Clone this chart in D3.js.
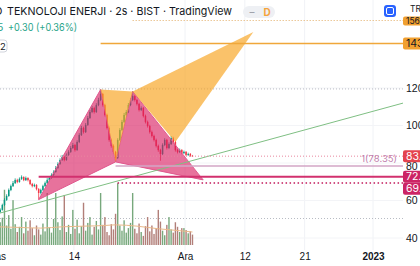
<!DOCTYPE html>
<html>
<head>
<meta charset="utf-8">
<script src="https://cdn.jsdelivr.net/npm/d3@7"></script>
<style>
html, body { margin: 0; padding: 0; background: #fff; }
svg { display: block; font-family: Inter, Roboto, sans-serif; }
</style>
</head>
<body>
<svg id="chart" width="420" height="266"></svg>
<script>
// 2h candles, first open then closes/highs/lows per bar
var firstOpen = 54.6;
var closes = [53.9, 55.0, 57.6, 60.3, 62.4, 65.6, 67.7, 69.3, 70.9, 69.9, 71.5, 72.5, 70.9, 72.0, 70.9, 68.8, 67.7, 68.3, 66.1, 64.0,
    65.6, 67.7, 69.3, 70.9, 72.0, 73.6, 75.2, 77.3, 79.5, 81.6, 83.2, 81.6, 84.3, 85.9, 88.0, 89.6, 86.9, 91.2, 94.9, 98.7,
    96.5, 100.3, 104.0, 107.2, 109.3, 107.2, 110.9, 113.6, 116.8, 110.9, 105.6, 98.7, 92.3, 89.1, 85.9, 82.7, 92.3, 97.6, 101.9, 105.6,
    107.2, 110.9, 113.6, 115.7, 113.6, 111.5, 108.3, 109.3, 105.1, 101.9, 99.7, 96.5, 94.4, 92.3, 89.1, 86.9, 84.8, 89.6, 92.3, 88.0,
    90.1, 93.3, 91.2, 86.9, 85.9, 86.9, 85.3, 85.9, 84.3, 84.8, 83.9, 83.65];
var highs = [55.4, 55.8, 58.3, 61.2, 63.3, 66.4, 68.5, 70.4, 71.8, 71.6, 72.3, 73.4, 72.9, 72.8, 72.4, 71.3, 69.4, 69.0, 68.7, 66.6,
    66.3, 68.4, 70.1, 71.9, 72.8, 74.5, 76.1, 78.4, 80.4, 82.5, 84.3, 83.8, 85.1, 86.8, 89.0, 90.7, 90.2, 92.1, 95.9, 99.8,
    99.4, 101.3, 105.1, 108.3, 110.4, 110.0, 111.9, 114.8, 119.2, 117.4, 111.6, 106.3, 99.5, 93.0, 89.9, 86.5, 93.2, 98.6, 103.0, 106.7,
    108.3, 112.0, 114.7, 118.2, 116.4, 114.2, 112.1, 110.2, 109.9, 105.8, 102.6, 100.4, 97.3, 95.1, 93.0, 89.8, 87.6, 90.5, 93.2, 92.9,
    91.0, 94.3, 94.0, 91.8, 87.6, 87.7, 87.4, 86.6, 86.4, 85.5, 85.3, 84.3];
var lows = [53.0, 53.4, 54.6, 57.0, 59.8, 62.0, 65.0, 67.2, 68.8, 69.2, 69.5, 71.0, 70.3, 70.4, 70.2, 68.2, 67.0, 67.1, 65.4, 60.5,
    63.2, 65.1, 67.2, 68.8, 70.3, 71.6, 73.0, 74.8, 76.9, 79.0, 81.1, 80.9, 81.2, 83.8, 85.4, 87.5, 86.1, 86.5, 90.6, 94.4,
    95.7, 96.0, 99.8, 103.5, 106.6, 106.4, 106.7, 110.3, 113.0, 110.1, 104.8, 97.9, 91.4, 88.2, 85.0, 80.6, 82.1, 91.7, 97.0, 101.3,
    105.0, 106.6, 110.3, 113.0, 112.8, 110.7, 107.5, 107.7, 104.3, 101.1, 98.9, 95.7, 93.6, 91.5, 88.3, 86.0, 81.2, 84.2, 89.0, 87.2,
    87.4, 89.6, 90.4, 86.1, 85.1, 85.3, 84.7, 84.8, 83.7, 83.8, 83.3, 83.2];
// volume in millions
var volumes = [2.0, 3.5, 4.2, 8.5, 3.0, 4.6, 2.5, 6.9, 3.2, 2.0, 2.8, 4.3, 1.8, 3.6, 2.2, 3.8, 2.6, 1.5, 3.0, 2.4,
    1.6, 3.3, 2.1, 8.0, 2.7, 1.9, 4.0, 8.0, 3.5, 2.3, 4.4, 7.7, 2.0, 3.1, 1.7, 5.4, 2.5, 3.9, 1.8, 2.9,
    6.5, 2.2, 3.4, 4.3, 1.6, 2.8, 3.7, 2.4, 8.0, 3.1, 4.3, 2.0, 1.5, 3.2, 2.4, 4.8, 9.5, 3.0, 2.2, 3.8,
    1.9, 2.6, 3.4, 8.0, 2.5, 1.8, 3.3, 2.0, 1.4, 2.9, 4.3, 2.1, 3.0, 1.7, 2.6, 5.4, 3.6, 2.2, 1.5, 3.1,
    4.3, 2.4, 1.9, 3.5, 2.8, 2.0, 2.6, 2.6, 2.3, 1.8, 2.1, 1.6];
// volume moving average read at a few bars: [bar, value]
var volMA = [[0, 2.8], [10, 2.7], [20, 2.6], [30, 2.8], [40, 2.9], [50, 3.0], [55, 3.1], [65, 2.9], [75, 2.5], [85, 2.2], [91, 2.0]];

var tickDays = [0, 9, 22, 29, 36, 44];
var tickLabels = ["Kas", "14", "Ara", "12", "21", "2023"];
var priceTicks = [40, 60, 80, 100, 120];

// harmonic pattern points: [bar, price]
var ptX = [19, 60.5], ptA = [48, 119.2], ptB = [55, 80.6], ptC = [63, 118.2], ptD = [96, 71.0];
var ptL = [83, 91.2], ptT = [119.5, 149.9];
var trendLine = [[0.9, 53.3], [189.7, 112]];

var lastPrice = 83.65;
var fibLevel = 78.35;
var supportLevel = 72.70;
var lowLevel = 69.30;
var targetLevel = 143.70;
var topLevel = 156.0;
var grayLevels = [119.5, 50.4];

var W = 420, H = 266, plotRight = 403;

var svg = d3.select("#chart");

var xScale = d3.scaleLinear().domain([0, 44]).range([-3, 373]);
var yScale = d3.scaleLinear().domain([40, 120]).range([238, 88]);
var vScale = d3.scaleLinear().domain([0, 10]).range([245, 180]);

function bx(k) { return xScale((k + 0.5) / 4); }

svg.append("rect").attr("width", W).attr("height", H).attr("fill", "#fff");

svg.append("defs").append("clipPath").attr("id", "plot")
    .append("rect").attr("x", 0).attr("y", 0).attr("width", plotRight).attr("height", 250);

var plot = svg.append("g").attr("clip-path", "url(#plot)");

// grid
plot.append("g").selectAll("line").data(tickDays).enter().append("line")
    .attr("x1", d => xScale(d)).attr("x2", d => xScale(d))
    .attr("y1", 0).attr("y2", 250)
    .attr("stroke", "#f0f2f6");
plot.append("g").selectAll("line").data(priceTicks).enter().append("line")
    .attr("x1", 0).attr("x2", plotRight)
    .attr("y1", d => yScale(d)).attr("y2", d => yScale(d))
    .attr("stroke", "#f3f4f7");

// gray dotted levels
plot.append("g").selectAll("line").data(grayLevels).enter().append("line")
    .attr("x1", 0).attr("x2", plotRight)
    .attr("y1", d => yScale(d)).attr("y2", d => yScale(d))
    .attr("stroke", "#b8bcc4").attr("stroke-dasharray", "1,2");

// volume
var opens = closes.map((c, i) => i == 0 ? firstOpen : closes[i - 1]);
plot.append("g").selectAll("rect").data(volumes).enter().append("rect")
    .attr("x", (d, i) => bx(i) - 0.7)
    .attr("width", 1.4)
    .attr("y", d => vScale(d))
    .attr("height", d => vScale(0) - vScale(d))
    .attr("fill", (d, i) => closes[i] >= opens[i] ? "#77a87c" : "#b27f79");

plot.append("path")
    .datum(volMA)
    .attr("d", d3.line().x(d => bx(d[0])).y(d => vScale(d[1])).curve(d3.curveMonotoneX))
    .attr("fill", "none").attr("stroke", "#eab98a").attr("stroke-width", 1);

// candles
var candles = plot.append("g").selectAll("g").data(closes).enter().append("g");
candles.append("line")
    .attr("x1", (d, i) => bx(i)).attr("x2", (d, i) => bx(i))
    .attr("y1", (d, i) => yScale(highs[i])).attr("y2", (d, i) => yScale(lows[i]))
    .attr("stroke", (d, i) => d >= opens[i] ? "#089981" : "#f23645").attr("stroke-width", 0.8);
candles.append("rect")
    .attr("x", (d, i) => bx(i) - 0.75).attr("width", 1.5)
    .attr("y", (d, i) => yScale(Math.max(d, opens[i])))
    .attr("height", (d, i) => Math.max(0.8, Math.abs(yScale(d) - yScale(opens[i]))))
    .attr("fill", (d, i) => d >= opens[i] ? "#089981" : "#f23645");

// pattern shapes
function pts(list) { return list.map(p => [bx(p[0]), yScale(p[1])].join(",")).join(" "); }

plot.append("g").selectAll("polygon").data([[ptX, ptA, ptB], [ptB, ptC, ptD]]).enter().append("polygon")
    .attr("points", d => pts(d))
    .attr("fill", "#d81b60").attr("fill-opacity", 0.62)
    .attr("stroke", "#e0588e").attr("stroke-width", 1);
plot.append("g").selectAll("polygon").data([[ptA, ptB, ptC], [ptC, ptL, ptT]]).enter().append("polygon")
    .attr("points", d => pts(d))
    .attr("fill", "#f7a11a").attr("fill-opacity", 0.65);

// trend line
plot.append("line")
    .attr("x1", bx(trendLine[0][0])).attr("y1", yScale(trendLine[0][1]))
    .attr("x2", bx(trendLine[1][0])).attr("y2", yScale(trendLine[1][1]))
    .attr("stroke", "#7fbf83").attr("stroke-width", 1);

// horizontal drawings
plot.append("line")
    .attr("x1", bx(ptC[0])).attr("x2", plotRight)
    .attr("y1", yScale(topLevel)).attr("y2", yScale(topLevel))
    .attr("stroke", "#e2ad66").attr("stroke-dasharray", "1,2");
plot.append("line")
    .attr("x1", bx(ptA[0])).attr("x2", plotRight)
    .attr("y1", yScale(targetLevel)).attr("y2", yScale(targetLevel))
    .attr("stroke", "#f0a73a").attr("stroke-width", 1.5);
plot.append("line")
    .attr("x1", 0).attr("x2", plotRight)
    .attr("y1", yScale(lastPrice)).attr("y2", yScale(lastPrice))
    .attr("stroke", "#e8869f").attr("stroke-dasharray", "1,2");
plot.append("line")
    .attr("x1", bx(ptB[0])).attr("x2", plotRight)
    .attr("y1", yScale(fibLevel)).attr("y2", yScale(fibLevel))
    .attr("stroke", "#d3a6c6").attr("stroke-width", 1.5);
plot.append("line")
    .attr("x1", bx(ptX[0])).attr("x2", plotRight)
    .attr("y1", yScale(supportLevel)).attr("y2", yScale(supportLevel))
    .attr("stroke", "#d2306e").attr("stroke-width", 2);
plot.append("line")
    .attr("x1", bx(ptB[0]) + 2).attr("x2", plotRight)
    .attr("y1", yScale(lowLevel)).attr("y2", yScale(lowLevel))
    .attr("stroke", "#c2185b").attr("stroke-width", 1.5).attr("stroke-dasharray", "1.5,2.5");

plot.append("text")
    .attr("x", 397).attr("y", yScale(fibLevel) - 4)
    .attr("text-anchor", "end")
    .style("font-size", "9.5px").attr("fill", "#c27fae")
    .text("1(" + fibLevel.toFixed(2) + ")");

// axes
var xAxis = svg.append("g")
    .attr("transform", "translate(0,253)")
    .call(d3.axisBottom(xScale).tickValues(tickDays).tickFormat((d, i) => tickLabels[i]).tickSize(0).tickPadding(0));
xAxis.select(".domain").remove();
xAxis.selectAll("text").style("font-size", "10px").attr("fill", "#131722")
    .style("font-weight", (d, i) => tickLabels[i] == "2023" ? "bold" : "normal");

var yAxis = svg.append("g")
    .attr("transform", "translate(" + plotRight + ",0)")
    .call(d3.axisRight(yScale).tickValues(priceTicks).tickSize(0).tickPadding(3));
yAxis.select(".domain").remove();
yAxis.selectAll("text").style("font-size", "10.5px").attr("fill", "#131722")
    .attr("y", d => d == 80 ? 3 : 0);

// price badges
var badges = [
    {v: topLevel, y: yScale(topLevel) - 4, h: 9, fill: "#f0a030", color: "#131722"},
    {v: targetLevel, y: yScale(targetLevel) - 6, h: 12, fill: "#f0a030", color: "#131722"},
    {v: lastPrice, y: yScale(lastPrice) - 6, h: 12, fill: "#e4434f", color: "#fff"},
    {v: supportLevel, y: yScale(supportLevel) - 6, h: 12, fill: "#cc2465", color: "#fff"},
    {v: lowLevel, y: yScale(supportLevel) + 6, h: 12, fill: "#cc2465", color: "#fff"}
];
var bg = svg.append("g").selectAll("g").data(badges).enter().append("g");
bg.append("rect")
    .attr("x", plotRight).attr("y", d => d.y).attr("width", W - plotRight + 4).attr("height", d => d.h)
    .attr("rx", 2).attr("fill", d => d.fill);
bg.append("text")
    .attr("x", plotRight + 3).attr("y", d => d.y + d.h / 2)
    .attr("dy", "0.35em")
    .style("font-size", d => d.h < 10 ? "8.5px" : "10.5px").attr("fill", d => d.color)
    .text(d => d.v.toFixed(2));

svg.append("text").attr("x", 410).attr("y", 12)
    .style("font-size", "8.5px").attr("fill", "#131722").text("TRY");

// blue button
svg.append("rect").attr("x", 384).attr("y", 5).attr("width", 12).attr("height", 12).attr("rx", 3).attr("fill", "#2962ff");
svg.append("rect").attr("x", 386.5).attr("y", 7.5).attr("width", 7).attr("height", 7).attr("rx", 1.5)
    .attr("fill", "none").attr("stroke", "#fff").attr("stroke-width", 1);

// header legend
svg.append("text").attr("x", -6).attr("y", 15)
    .style("font-size", "11px").attr("fill", "#131722").text("O");
svg.append("text").attr("x", 7).attr("y", 15)
    .attr("textLength", 225).attr("lengthAdjust", "spacingAndGlyphs")
    .style("font-size", "11px").attr("fill", "#131722")
    .text("TEKNOLOJI ENERJI · 2s · BIST · TradingView");

svg.append("rect").attr("x", 243).attr("y", 6).attr("width", 32).attr("height", 12).attr("rx", 6).attr("fill", "#eef0f4");
svg.append("text").attr("x", 252).attr("y", 15.5).attr("text-anchor", "middle")
    .style("font-size", "10px").attr("fill", "#9598a1").text("–");
svg.append("text").attr("x", 267).attr("y", 15.5).attr("text-anchor", "middle")
    .style("font-size", "10px").style("font-weight", "bold").attr("fill", "#f5a33b").text("D");

svg.append("text").attr("x", 3.5).attr("y", 31).attr("text-anchor", "end")
    .style("font-size", "10.5px").attr("fill", "#2aa58a").text(lastPrice.toFixed(2));
svg.append("text").attr("x", 8).attr("y", 31)
    .attr("textLength", 69).attr("lengthAdjust", "spacingAndGlyphs")
    .style("font-size", "10.5px").attr("fill", "#2aa58a").text("+0.30 (+0.36%)");

svg.append("rect").attr("x", -5).attr("y", 40).attr("width", 12).attr("height", 12).attr("rx", 3)
    .attr("fill", "#fff").attr("stroke", "#d1d4dc");
svg.append("text").attr("x", 0).attr("y", 49.5)
    .style("font-size", "9.5px").attr("fill", "#131722").text("2");
</script>
</body>
</html>
